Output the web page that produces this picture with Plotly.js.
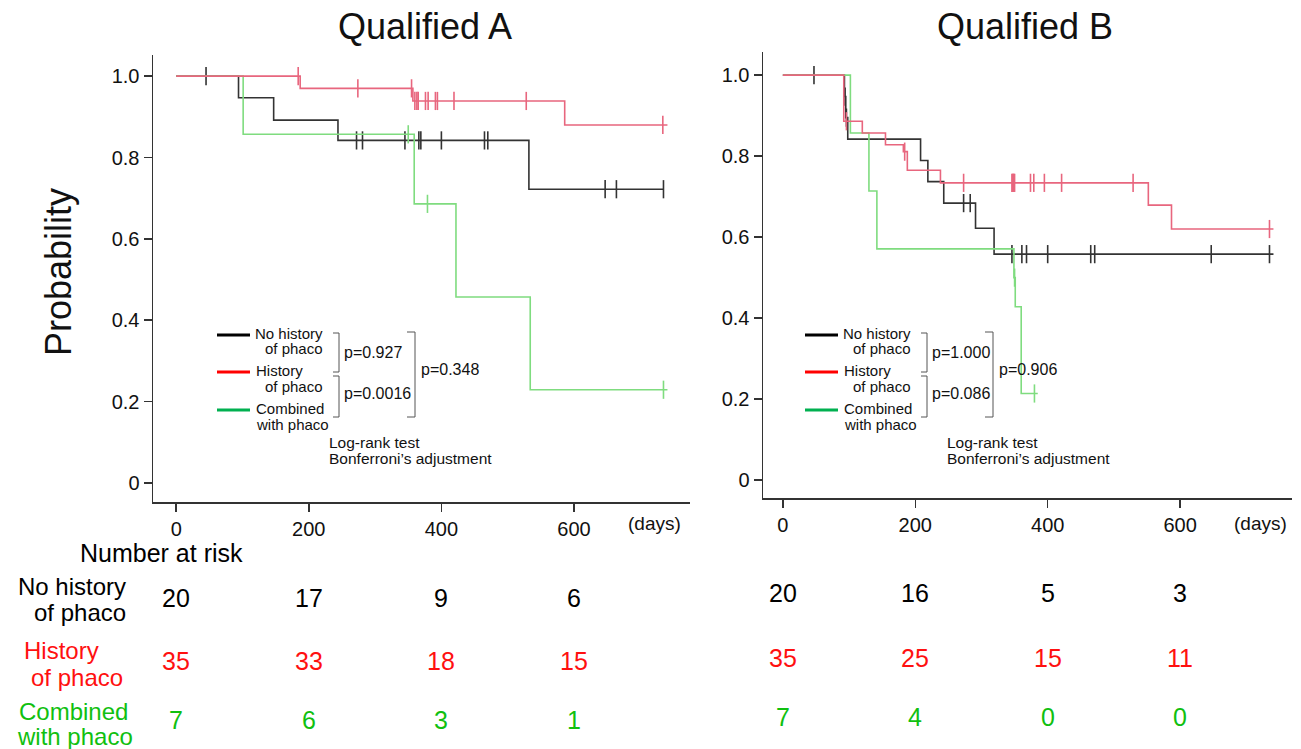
<!DOCTYPE html>
<html><head><meta charset="utf-8">
<script src="https://cdn.plot.ly/plotly-3.0.1.min.js"></script>
<style>html,body{margin:0;padding:0;background:#fff}#chart{width:1301px;height:749px}</style>
</head><body><div id="chart"></div><script>
// ---------- Data: Qualified A ----------
const A_noHist_t = [0, 94, 147, 244, 532, 735];
const A_noHist_s = [1.0, 0.947, 0.892, 0.842, 0.722, 0.722];
const A_noHist_cens = [45, 272, 281, 345, 366, 369, 400, 465, 470, 647, 664, 735];
const A_hist_t = [0, 187, 357, 586, 741];
const A_hist_s = [1.0, 0.970, 0.939, 0.880, 0.880];
const A_hist_cens = [184, 274, 355, 360, 363, 365, 376, 380, 391, 394, 419, 528, 734];
const A_comb_t = [0, 101, 359, 422, 534, 741];
const A_comb_s = [1.0, 0.857, 0.686, 0.457, 0.229, 0.229];
const A_comb_cens = [350, 379, 735];
// ---------- Data: Qualified B ----------
const B_noHist_t = [0, 93, 95, 98, 208, 219, 243, 291, 319, 741];
const B_noHist_s = [1.0, 0.947, 0.895, 0.842, 0.789, 0.737, 0.684, 0.622, 0.558, 0.558];
const B_noHist_cens = [47, 94, 96, 273, 283, 346, 361, 368, 400, 465, 471, 647, 735];
const B_hist_t = [0, 92, 120, 155, 182, 188, 238, 552, 587, 741];
const B_hist_s = [1.0, 0.886, 0.857, 0.828, 0.811, 0.765, 0.734, 0.679, 0.620, 0.620];
const B_hist_cens = [96, 184, 273, 346, 347, 348, 349, 350, 374, 379, 395, 421, 529, 735];
const B_comb_t = [0, 102, 130, 142, 349, 351, 360, 385];
const B_comb_s = [1.0, 0.857, 0.714, 0.571, 0.500, 0.428, 0.214, 0.214];
const B_comb_cens = [350, 380];
// ---------- Number at risk ----------
const riskTimes = [0, 200, 400, 600];
const A_risk_noHist = [20, 17, 9, 6];
const A_risk_hist = [35, 33, 18, 15];
const A_risk_comb = [7, 6, 3, 1];
const B_risk_noHist = [20, 16, 5, 3];
const B_risk_hist = [35, 25, 15, 11];
const B_risk_comb = [7, 4, 0, 0];
const xTicks = [0, 200, 400, 600];
const yTicks = [0, 0.2, 0.4, 0.6, 0.8, 1.0];
const yTickText = ['0', '0.2', '0.4', '0.6', '0.8', '1.0'];
const pA = ['p=0.927', 'p=0.0016', 'p=0.348'];
const pB = ['p=1.000', 'p=0.086', 'p=0.906'];

const W = 1301, H = 749;
const px = x => x / W, py = y => 1 - y / H;
const FONT = 'Liberation Sans, Arial, sans-serif';
const C_BLACK = '#333333', C_RED = '#e8667e', C_GREEN = '#7fdc7f';

function stepAt(ts, ss, t) {
  let v = ss[0];
  for (let i = 0; i < ts.length; i++) { if (ts[i] <= t) v = ss[i]; }
  return v;
}
const traces = [];
function addCurve(ts, ss, cens, color, xa, ya) {
  traces.push({x: ts, y: ss, type: 'scatter', mode: 'lines', line: {shape: 'hv', color: color, width: 1.6},
    xaxis: xa, yaxis: ya, hoverinfo: 'skip'});
  traces.push({x: cens, y: cens.map(t => stepAt(ts, ss, t)), type: 'scatter', mode: 'markers',
    marker: {symbol: 'line-ns', size: 13, line: {color: color, width: 1.6}}, xaxis: xa, yaxis: ya, hoverinfo: 'skip'});
}
addCurve(A_noHist_t, A_noHist_s, A_noHist_cens, C_BLACK, 'x', 'y');
addCurve(A_comb_t, A_comb_s, A_comb_cens, C_GREEN, 'x', 'y');
addCurve(A_hist_t, A_hist_s, A_hist_cens, C_RED, 'x', 'y');
addCurve(B_noHist_t, B_noHist_s, B_noHist_cens, C_BLACK, 'x2', 'y2');
addCurve(B_comb_t, B_comb_s, B_comb_cens, C_GREEN, 'x2', 'y2');
addCurve(B_hist_t, B_hist_s, B_hist_cens, C_RED, 'x2', 'y2');

const axCommon = {showline: true, linecolor: '#333', linewidth: 1.5, ticks: 'outside', ticklen: 8, tickwidth: 1.5,
  tickcolor: '#333', showgrid: false, zeroline: false, tickfont: {family: FONT, size: 20, color: '#111'}, fixedrange: true};
const layout = {
  width: W, height: H, margin: {l: 0, r: 0, t: 0, b: 0}, showlegend: false,
  paper_bgcolor: '#fff', plot_bgcolor: '#fff', font: {family: FONT, color: '#111'},
  xaxis: Object.assign({}, axCommon, {domain: [px(153), px(690)], range: [-35, 775], tickvals: xTicks, anchor: 'y'}),
  yaxis: Object.assign({}, axCommon, {domain: [py(502), py(55)], range: [-0.047, 1.052], tickvals: yTicks, ticktext: yTickText, anchor: 'x'}),
  xaxis2: Object.assign({}, axCommon, {domain: [px(763), px(1292)], range: [-30, 769], tickvals: xTicks, anchor: 'y2'}),
  yaxis2: Object.assign({}, axCommon, {domain: [py(498), py(52)], range: [-0.044, 1.057], tickvals: yTicks, ticktext: yTickText, anchor: 'x2'}),
  annotations: [], shapes: []
};
const ann = layout.annotations, shp = layout.shapes;
function T(text, x, y, size, opts) {
  ann.push(Object.assign({text: text, x: px(x), y: py(y), xref: 'paper', yref: 'paper', showarrow: false,
    font: {family: FONT, size: size, color: '#111'}, xanchor: 'center', yanchor: 'middle'}, opts || {}));
}
function L(x0, y0, x1, y1, color, w) {
  shp.push({type: 'line', xref: 'paper', yref: 'paper', x0: px(x0), y0: py(y0), x1: px(x1), y1: py(y1), line: {color: color, width: w}});
}
// Titles
T('Qualified A', 425, 27, 36);
T('Qualified B', 1025, 27, 36);
T('Probability', 58, 272, 36, {textangle: -90});
T('(days)', 654, 523, 19);
T('(days)', 1260, 523, 19);

// Legend blocks
function legendBlock(ox, pv) {
  const tx = ox + 108, fs = 15;
  L(ox, 335, ox + 33, 335, '#000', 3);
  L(ox, 372, ox + 33, 372, '#ff0000', 3);
  L(ox, 410, ox + 33, 410, '#00b050', 3);
  T('No history', tx, 333, fs, {xanchor: 'right'});
  T('of phaco', tx, 348, fs, {xanchor: 'right'});
  T('History', ox + 37, 371, fs, {xanchor: 'left'});
  T('of phaco', tx, 386, fs, {xanchor: 'right'});
  T('Combined', ox + 37, 408, fs, {xanchor: 'left'});
  T('with phaco', ox + 37, 424, fs, {xanchor: 'left'});
  const bx = ox + 122, c = '#555';
  L(bx - 6, 333, bx, 333, c, 1); L(bx, 333, bx, 372, c, 1); L(bx - 6, 372, bx, 372, c, 1);
  L(bx - 6, 376, bx, 376, c, 1); L(bx, 376, bx, 417, c, 1); L(bx - 6, 417, bx, 417, c, 1);
  T(pv[0], bx + 3, 352, 16, {xanchor: 'left'});
  T(pv[1], bx + 3, 393, 16, {xanchor: 'left'});
}
legendBlock(217, pA);
L(407, 332, 415, 332, '#555', 1); L(415, 332, 415, 417, '#555', 1); L(407, 417, 415, 417, '#555', 1);
T(pA[2], 419, 369, 16, {xanchor: 'left'});
T('Log-rank test', 327, 442, 15.5, {xanchor: 'left'});
T('Bonferroni\u2019s adjustment', 327, 458, 15.5, {xanchor: 'left'});

legendBlock(805, pB);
L(985, 332, 993, 332, '#555', 1); L(993, 332, 993, 417, '#555', 1); L(985, 417, 993, 417, '#555', 1);
T(pB[2], 997, 369, 16, {xanchor: 'left'});
T('Log-rank test', 945, 442, 15.5, {xanchor: 'left'});
T('Bonferroni\u2019s adjustment', 945, 458, 15.5, {xanchor: 'left'});

// Number at risk
const RED_T = '#ff1010', GREEN_T = '#10c010', RS = 24;
T('Number at risk', 161, 553, 25, {font: {family: FONT, size: 25, color: '#000'}});
T('No history', 72, 586, RS, {font: {family: FONT, size: RS, color: '#000'}});
T('of phaco', 80, 612, RS, {font: {family: FONT, size: RS, color: '#000'}});
T('History', 61, 650, RS, {font: {family: FONT, size: RS, color: RED_T}});
T('of phaco', 77, 677, RS, {font: {family: FONT, size: RS, color: RED_T}});
T('Combined', 73, 711, RS, {font: {family: FONT, size: RS, color: GREEN_T}});
T('with phaco', 75, 736, RS, {font: {family: FONT, size: RS, color: GREEN_T}});
function riskRow(vals, xref, yPix, color) {
  vals.forEach((v, i) => {
    ann.push({text: String(v), x: riskTimes[i], y: py(yPix), xref: xref, yref: 'paper', showarrow: false,
      font: {family: FONT, size: 25, color: color}, xanchor: 'center', yanchor: 'middle'});
  });
}
riskRow(A_risk_noHist, 'x', 598, '#000');
riskRow(A_risk_hist, 'x', 661, RED_T);
riskRow(A_risk_comb, 'x', 720, GREEN_T);
riskRow(B_risk_noHist, 'x2', 593, '#000');
riskRow(B_risk_hist, 'x2', 658, RED_T);
riskRow(B_risk_comb, 'x2', 717, GREEN_T);

Plotly.newPlot('chart', traces, layout, {displayModeBar: false, staticPlot: true});
</script></body></html>
